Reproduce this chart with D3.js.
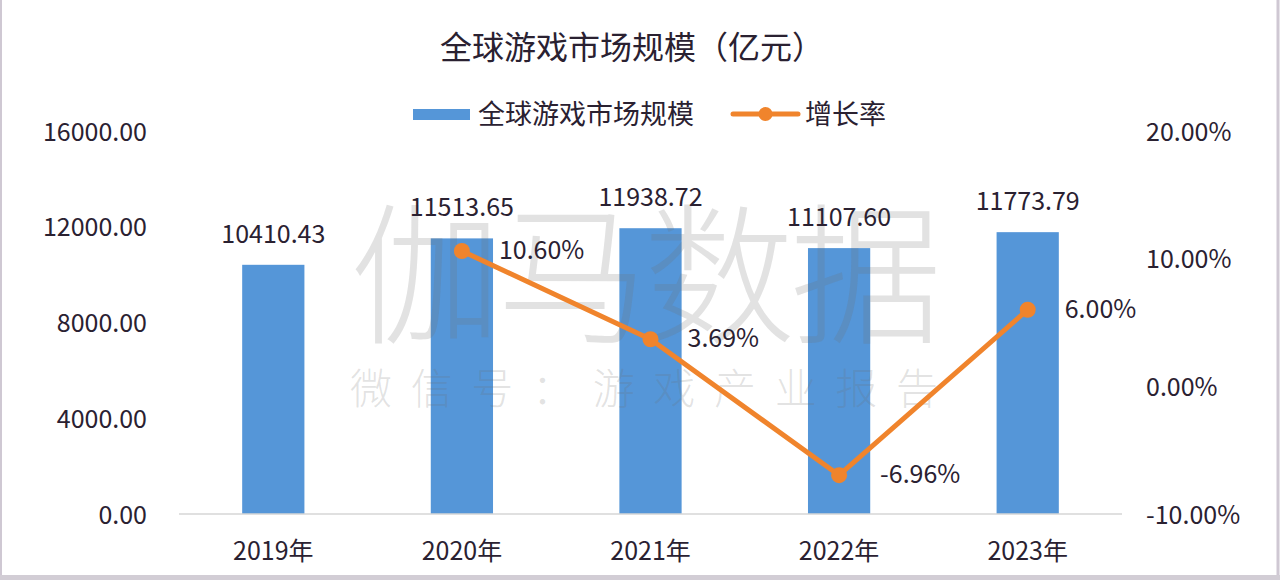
<!DOCTYPE html>
<html>
<head>
<meta charset="utf-8">
<script src="https://cdn.jsdelivr.net/npm/d3@7/dist/d3.min.js"></script>
<style>
  html, body { margin: 0; padding: 0; background: #ffffff; }
  svg { display: block; }
  text { font-family: "Noto Sans CJK SC", "Noto Sans", sans-serif; }
</style>
</head>
<body>
<svg id="chart" width="1280" height="580"></svg>
<script>
const years = ["2019年", "2020年", "2021年", "2022年", "2023年"];
const marketSize = [10410.43, 11513.65, 11938.72, 11107.60, 11773.79];
const growthRate = [null, 10.60, 3.69, -6.96, 6.00];
const leftTicks = [0, 4000, 8000, 12000, 16000];
const rightTicks = [-10, 0, 10, 20];
const titleText = "全球游戏市场规模（亿元）";
const legendBar = "全球游戏市场规模";
const legendLine = "增长率";
const watermarkMain = "伽马数据";
const watermarkSub = "微信号：游戏产业报告";

const svg = d3.select("#chart");
const W = 1280, H = 580;
const textColor = "#2a2131";
const barColor = "#5596d8";
const lineColor = "#f0842c";
const fmt2 = v => d3.format(".2f")(v).replace("\u2212", "-");

svg.append("rect").attr("x", 0).attr("y", 0).attr("width", W).attr("height", H).attr("fill", "#ffffff");

const x = d3.scaleBand().domain(years).range([179, 1122]).paddingInner(0.67).paddingOuter(0.335);
const yL = d3.scaleLinear().domain([0, 16000]).range([514, 131]);
const yR = d3.scaleLinear().domain([-10, 20]).range([514, 131]);

// title
svg.append("text").attr("x", 632).attr("y", 59).attr("text-anchor", "middle")
  .attr("font-size", 32).attr("fill", textColor).text(titleText);

// legend
svg.append("rect").attr("x", 413).attr("y", 109).attr("width", 57).attr("height", 11).attr("fill", barColor);
svg.append("text").attr("x", 478).attr("y", 124).attr("font-size", 27).attr("fill", textColor).text(legendBar);
svg.append("line").attr("x1", 733).attr("x2", 798).attr("y1", 114).attr("y2", 114)
  .attr("stroke", lineColor).attr("stroke-width", 5).attr("stroke-linecap", "round");
svg.append("circle").attr("cx", 765.5).attr("cy", 114).attr("r", 7).attr("fill", lineColor);
svg.append("text").attr("x", 805).attr("y", 124).attr("font-size", 27).attr("fill", textColor).text(legendLine);

// bars
svg.append("g").selectAll("rect").data(years).join("rect")
  .attr("x", d => x(d)).attr("width", x.bandwidth())
  .attr("y", (d, i) => yL(marketSize[i])).attr("height", (d, i) => yL(0) - yL(marketSize[i]))
  .attr("fill", barColor);

// watermark (over the bars, under the labels)
const wm = svg.append("g");
wm.append("text").attr("x", 350).attr("y", 332).attr("font-size", 152).attr("font-weight", 200)
  .attr("textLength", 592).attr("lengthAdjust", "spacing")
  .attr("fill", "rgba(110,110,110,0.2)").text(watermarkMain);
wm.append("text").attr("x", 350).attr("y", 404).attr("font-size", 42).attr("font-weight", 200)
  .attr("textLength", 588).attr("lengthAdjust", "spacing")
  .attr("fill", "rgba(110,110,110,0.2)").text(watermarkSub);

// left axis
const axL = d3.axisLeft(yL).tickValues(leftTicks).tickFormat(fmt2).tickSize(0).tickPadding(0);
const gL = svg.append("g").attr("transform", "translate(147,0)").call(axL);
gL.select(".domain").remove();
gL.selectAll("text").attr("font-size", 25).attr("fill", textColor)
  .attr("font-family", "'Noto Sans CJK SC', sans-serif").attr("dy", "0.36em");

// right axis
const axR = d3.axisRight(yR).tickValues(rightTicks).tickFormat(d => fmt2(d) + "%").tickSize(0).tickPadding(0);
const gR = svg.append("g").attr("transform", "translate(1146,0)").call(axR);
gR.select(".domain").remove();
gR.selectAll("text").attr("font-size", 25).attr("fill", textColor)
  .attr("font-family", "'Noto Sans CJK SC', sans-serif").attr("dy", "0.36em");

// baseline
svg.append("line").attr("x1", 179).attr("x2", 1122).attr("y1", yL(0)).attr("y2", yL(0))
  .attr("stroke", "#d6d6d6").attr("stroke-width", 1.5);

// x axis labels
const axX = d3.axisBottom(x).tickSize(0).tickPadding(0);
const gX = svg.append("g").attr("transform", "translate(0,537)").call(axX);
gX.select(".domain").remove();
gX.selectAll("text").attr("font-size", 25).attr("fill", textColor)
  .attr("font-family", "'Noto Sans CJK SC', sans-serif").attr("dy", "0.9em");

// bar value labels
svg.append("g").selectAll("text").data(years).join("text")
  .attr("x", d => x(d) + x.bandwidth() / 2)
  .attr("y", (d, i) => yL(marketSize[i]) - 22)
  .attr("text-anchor", "middle").attr("font-size", 25).attr("fill", textColor)
  .text((d, i) => fmt2(marketSize[i]));

// line
const pts = years.map((d, i) => ({ year: d, v: growthRate[i] })).filter(p => p.v !== null);
const line = d3.line().x(p => x(p.year) + x.bandwidth() / 2).y(p => yR(p.v));
svg.append("path").datum(pts).attr("d", line).attr("fill", "none")
  .attr("stroke", lineColor).attr("stroke-width", 5).attr("stroke-linejoin", "round");
svg.append("g").selectAll("circle").data(pts).join("circle")
  .attr("cx", p => x(p.year) + x.bandwidth() / 2).attr("cy", p => yR(p.v)).attr("r", 8)
  .attr("fill", lineColor);
svg.append("g").selectAll("text").data(pts).join("text")
  .attr("x", p => x(p.year) + x.bandwidth() / 2 + (p.v < 0 ? 41 : 37))
  .attr("y", p => yR(p.v) + 8)
  .attr("font-size", 25).attr("fill", textColor)
  .text(p => fmt2(p.v) + "%");

// frame
svg.append("line").attr("x1", 1).attr("x2", 1).attr("y1", 0).attr("y2", H).attr("stroke", "#cfc8d3").attr("stroke-width", 2);
svg.append("line").attr("x1", 1278).attr("x2", 1278).attr("y1", 0).attr("y2", H).attr("stroke", "#cfc8d3").attr("stroke-width", 3);
svg.append("line").attr("x1", 0).attr("x2", W).attr("y1", 577.5).attr("y2", 577.5).attr("stroke", "#d2cdd5").attr("stroke-width", 5);
</script>
</body>
</html>
